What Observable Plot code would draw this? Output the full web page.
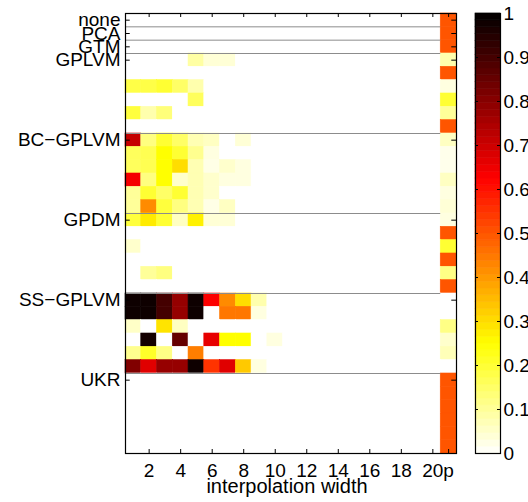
<!DOCTYPE html>
<html><head><meta charset="utf-8">
<script src="https://cdn.jsdelivr.net/npm/d3@7"></script>
<script src="https://cdn.jsdelivr.net/npm/@observablehq/plot@0.6"></script>
<style>
body{margin:0;background:#fff;}
#wrap{display:flex;width:528px;height:502px;overflow:hidden;background:#fff;}
#wrap svg{display:block;flex:none;}
</style></head><body><div id="wrap"></div>
<script>
// ---- data ----
const columns = ["1","2","3","4","5","6","7","8","9","10","11","12","13","14","15","16","17","18","19","20","p"];
const methods = ["none","PCA","GTM","GPLVM","BC\u2212GPLVM","GPDM","SS\u2212GPLVM","UKR"];
const xTickLabels = ["2","4","6","8","10","12","14","16","18","20","p"];
const colorTicks = [0,0.1,0.2,0.3,0.4,0.5,0.6,0.7,0.8,0.9,1];
const xLabel = "interpolation width";

//            1     2     3     4     5     6     7     8     9    10  11 12 13 14 15 16 17 18 19 20   p
const noneRows = [
  [0,    0,    0,    0,    0,    0,    0,    0,    0,    0,   0,0,0,0,0,0,0,0,0,0, 0.5]];
const pcaRows = [
  [0,    0,    0,    0,    0,    0,    0,    0,    0,    0,   0,0,0,0,0,0,0,0,0,0, 0.5]];
const gtmRows = [
  [0,    0,    0,    0,    0,    0,    0,    0,    0,    0,   0,0,0,0,0,0,0,0,0,0, 0.5]];
const gplvmRows = [
  [0,    0,    0,    0,    0.09, 0.04, 0.04, 0,    0,    0,   0,0,0,0,0,0,0,0,0,0, 0.08],
  [0,    0,    0,    0,    0,    0,    0,    0,    0,    0,   0,0,0,0,0,0,0,0,0,0, 0.5],
  [0.18, 0.18, 0.2,  0.15, 0.08, 0,    0,    0,    0,    0,   0,0,0,0,0,0,0,0,0,0, 0.03],
  [0,    0,    0,    0,    0.16, 0,    0,    0,    0,    0,   0,0,0,0,0,0,0,0,0,0, 0.2],
  [0.19, 0.08, 0.13, 0,    0,    0,    0,    0,    0,    0,   0,0,0,0,0,0,0,0,0,0, 0.1],
  [0,    0,    0,    0,    0,    0,    0,    0,    0,    0,   0,0,0,0,0,0,0,0,0,0, 0.5]];
const bcgplvmRows = [
  [0.71, 0.125,0.2,  0.15, 0.075,0.06, 0,    0.04, 0,    0,   0,0,0,0,0,0,0,0,0,0, 0.06],
  [0.16, 0.17, 0.25, 0.2,  0.11, 0.03, 0,    0,    0,    0,   0,0,0,0,0,0,0,0,0,0, 0.02],
  [0.16, 0.17, 0.25, 0.3,  0.075,0.025,0.05, 0.03, 0,    0,   0,0,0,0,0,0,0,0,0,0, 0.02],
  [0.64, 0.125,0.25, 0.05, 0.075,0.05, 0.03, 0.03, 0,    0,   0,0,0,0,0,0,0,0,0,0, 0.06],
  [0.1,  0.2,  0.15, 0.2,  0.075,0.05, 0,    0,    0,    0,   0,0,0,0,0,0,0,0,0,0, 0.03],
  [0.1,  0.42, 0.19, 0.125,0.075,0.025,0.06, 0,    0,    0,   0,0,0,0,0,0,0,0,0,0, 0.04]];
const gpdmRows = [
  [0.19, 0.28, 0.2,  0.06, 0.27, 0.04, 0.04, 0,    0,    0,   0,0,0,0,0,0,0,0,0,0, 0.03],
  [0,    0,    0,    0,    0,    0,    0,    0,    0,    0,   0,0,0,0,0,0,0,0,0,0, 0.5],
  [0.05, 0,    0,    0,    0,    0,    0,    0,    0,    0,   0,0,0,0,0,0,0,0,0,0, 0.2],
  [0,    0,    0,    0,    0,    0,    0,    0,    0,    0,   0,0,0,0,0,0,0,0,0,0, 0.5],
  [0,    0.1,  0.125,0,    0,    0,    0,    0,    0,    0,   0,0,0,0,0,0,0,0,0,0, 0.12],
  [0,    0,    0,    0,    0,    0,    0,    0,    0,    0,   0,0,0,0,0,0,0,0,0,0, 0.5]];
const ssgplvmRows = [
  [0.98, 0.98, 0.9,  0.78, 0.98, 0.63, 0.42, 0.3,  0.08, 0,   0,0,0,0,0,0,0,0,0,0, 0],
  [0.98, 0.98, 0.9,  0.78, 0.98, 0,    0.45, 0.45, 0.03, 0,   0,0,0,0,0,0,0,0,0,0, 0],
  [0.055,0,    0.29, 0.06, 0,    0,    0,    0,    0,    0,   0,0,0,0,0,0,0,0,0,0, 0.12],
  [0,    0.97, 0,    0.85, 0,    0.66, 0.25, 0.25, 0,    0.03,0,0,0,0,0,0,0,0,0,0, 0.05],
  [0.11, 0.21, 0.12, 0,    0.44, 0,    0,    0,    0,    0,   0,0,0,0,0,0,0,0,0,0, 0.07],
  [0.81, 0.67, 0.78, 0.78, 0.98, 0.55, 0.67, 0.33, 0.03, 0,   0,0,0,0,0,0,0,0,0,0, 0]];
const ukrRows = [
  [0,    0,    0,    0,    0,    0,    0,    0,    0,    0,   0,0,0,0,0,0,0,0,0,0, 0.5],
  [0,    0,    0,    0,    0,    0,    0,    0,    0,    0,   0,0,0,0,0,0,0,0,0,0, 0.5],
  [0,    0,    0,    0,    0,    0,    0,    0,    0,    0,   0,0,0,0,0,0,0,0,0,0, 0.5],
  [0,    0,    0,    0,    0,    0,    0,    0,    0,    0,   0,0,0,0,0,0,0,0,0,0, 0.5],
  [0,    0,    0,    0,    0,    0,    0,    0,    0,    0,   0,0,0,0,0,0,0,0,0,0, 0.5],
  [0,    0,    0,    0,    0,    0,    0,    0,    0,    0,   0,0,0,0,0,0,0,0,0,0, 0.5]];

// ---- build table ----
const groups = [noneRows, pcaRows, gtmRows, gplvmRows, bcgplvmRows, gpdmRows, ssgplvmRows, ukrRows];
const cells = [];
const groupStart = [];   // first row index of each method
let r = 0;
groups.forEach((rows, gi) => {
  groupStart.push(r);
  rows.forEach(row => {
    row.forEach((v, c) => cells.push({r, c, v}));
    r++;
  });
});
const nRows = r;
const nCols = columns.length;
const boundaries = groupStart.slice(1);
const yTickRows = groupStart;
const xTickCols = xTickLabels.map(l => columns.indexOf(l));

const colorScale = {type: "linear", domain: [0, 0.25, 0.625, 1], range: ["#ffffff", "#ffff00", "#ff0000", "#000000"], interpolate: "rgb", clamp: true};
const font = {fontFamily: "'Liberation Sans', Arial, Helvetica, sans-serif", fontSize: "19px", color: "#000", background: "#fff", overflow: "visible"};

const main = Plot.plot({
  width: 470, height: 502,
  marginLeft: 125, marginRight: 14, marginTop: 13, marginBottom: 49,
  style: font,
  x: {domain: [0, nCols], axis: null},
  y: {domain: [0, nRows], reverse: true, axis: null},
  color: colorScale,
  marks: [
    Plot.rect(cells, {x1: d => d.c, x2: d => d.c + 1, y1: d => d.r, y2: d => d.r + 1, fill: "v", stroke: "v", strokeWidth: 0.6}),
    Plot.ruleY(boundaries, {y: d => d, x1: 0, x2: nCols - 1, stroke: "#8c8c8c", strokeWidth: 1}),
    Plot.axisX({anchor: "bottom", ticks: xTickCols.map(c => c + 0.5), tickFormat: d => columns[Math.round(d - 0.5)], tickSize: 0, tickPadding: 10}),
    Plot.axisY({anchor: "left", ticks: yTickRows.map(i => i + 0.5), tickFormat: d => methods[groupStart.indexOf(Math.round(d - 0.5))], tickSize: 0, tickPadding: 5}),
    Plot.ruleX(xTickCols, {x: d => d + 0.5, y1: nRows, y2: nRows - 0.3, stroke: "#000"}),
    Plot.ruleX(xTickCols, {x: d => d + 0.5, y1: 0, y2: 0.3, stroke: "#000"}),
    Plot.ruleY(yTickRows, {y: d => d + 0.5, x1: 0, x2: 0.3, stroke: "#000"}),
    Plot.ruleY(yTickRows, {y: d => d + 0.5, x1: nCols - 0.3, x2: nCols, stroke: "#000"}),
    Plot.text([xLabel], {frameAnchor: "bottom", dy: 39, dx: -4, fill: "#000", fontSize: 20}),
    Plot.frame({stroke: "#000", strokeWidth: 1.2})
  ]
});

// colour bar ramp (legend), 64 steps like the reference colormap
const ramp = d3.range(64).map(i => ({y1: i / 64, y2: (i + 1) / 64, v: (i + 0.5) / 64}));
const bar = Plot.plot({
  width: 58, height: 502,
  marginLeft: 5, marginRight: 28, marginTop: 13, marginBottom: 49,
  style: font,
  x: {domain: [0, 1], axis: null},
  y: {domain: [0, 1], axis: null},
  color: colorScale,
  marks: [
    Plot.rect(ramp, {x1: 0, x2: 1, y1: "y1", y2: "y2", fill: "v", stroke: "v", strokeWidth: 0.6}),
    Plot.ruleY(colorTicks, {y: d => d, x1: 0, x2: 0.12, stroke: "#000"}),
    Plot.ruleY(colorTicks, {y: d => d, x1: 0.88, x2: 1, stroke: "#000"}),
    Plot.axisY({anchor: "right", ticks: colorTicks, tickFormat: d => String(+d.toFixed(1)), tickSize: 0, tickPadding: 3}),
    Plot.frame({stroke: "#000", strokeWidth: 1.2})
  ]
});

const wrap = document.getElementById("wrap");
wrap.appendChild(main);
wrap.appendChild(bar);
</script>
</body></html>
